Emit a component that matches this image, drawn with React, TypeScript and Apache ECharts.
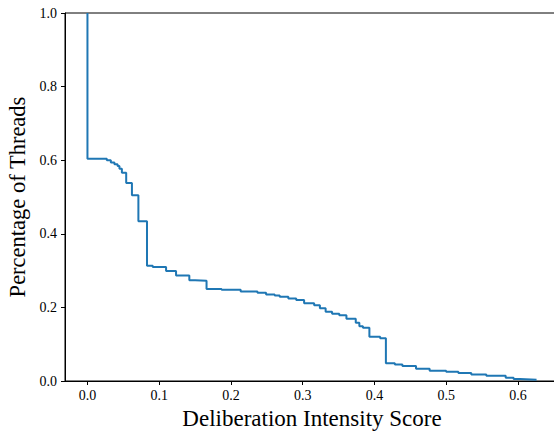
import React, { useEffect, useRef } from "react";
import * as echarts from "echarts";

const scores = [
  0, 0, 0.027, 0.0326, 0.0376, 0.042, 0.0446, 0.048, 0.054, 0.062, 0.071, 0.083,
  0.091, 0.1096, 0.1235, 0.142, 0.15, 0.166, 0.187, 0.2136, 0.237, 0.249, 0.261,
  0.268, 0.28, 0.291, 0.302, 0.316, 0.324, 0.332, 0.341, 0.351, 0.361, 0.374,
  0.379, 0.384, 0.393, 0.408, 0.416, 0.4285, 0.439, 0.458, 0.477, 0.5, 0.517,
  0.535, 0.556, 0.583, 0.594, 0.603, 0.626,
];
const fractions = [
  1.0, 0.604, 0.6, 0.594, 0.589, 0.584, 0.577, 0.566, 0.538, 0.505, 0.434, 0.313,
  0.31, 0.299, 0.287, 0.274, 0.2726, 0.25, 0.248, 0.243, 0.24, 0.235, 0.232,
  0.229, 0.224, 0.22, 0.211, 0.206, 0.198, 0.188, 0.183, 0.179, 0.169, 0.158,
  0.149, 0.145, 0.12, 0.116, 0.048, 0.045, 0.041, 0.033, 0.028, 0.025, 0.022,
  0.018, 0.0145, 0.009, 0.0054, 0.0035, 0.002,
];
const xTicks = [0, 0.1, 0.2, 0.3, 0.4, 0.5, 0.6];
const yTicks = [0, 0.2, 0.4, 0.6, 0.8, 1.0];

const FONT = "'Liberation Serif', serif";

export default function App() {
  const ref = useRef<HTMLDivElement>(null);
  useEffect(() => {
    if (!ref.current) return;
    const chart = echarts.init(ref.current, null, { renderer: "svg" });
    const data = scores.map((x, i) => [x, fractions[i]]);
    chart.setOption({
      animation: false,
      grid: {
        left: 65,
        top: 13,
        width: 494,
        height: 368,
        show: true,
        borderColor: "#000",
        borderWidth: 1,
        containLabel: false,
        outerBoundsMode: "none",
      },
      xAxis: {
        type: "value",
        min: -0.0313,
        max: 0.6573,
        name: "Deliberation Intensity Score",
        nameLocation: "middle",
        nameGap: 23,
        nameTextStyle: { fontFamily: FONT, fontSize: 23, color: "#000" },
        splitLine: { show: false },
        axisLine: { onZero: false, lineStyle: { color: "#000", width: 1 } },
        axisTick: { customValues: xTicks, length: 4, inside: false, lineStyle: { color: "#000" } },
        axisLabel: {
          customValues: xTicks,
          formatter: (v: number) => v.toFixed(1),
          fontFamily: FONT,
          fontSize: 14,
          color: "#000",
          margin: 7,
        },
      },
      yAxis: {
        type: "value",
        min: 0,
        max: 1,
        name: "Percentage of Threads",
        nameLocation: "middle",
        nameGap: 35,
        nameTextStyle: { fontFamily: FONT, fontSize: 22.5, color: "#000" },
        splitLine: { show: false },
        axisLine: { show: true, onZero: false, lineStyle: { color: "#000", width: 1 } },
        axisTick: { show: true, customValues: yTicks, length: 4, lineStyle: { color: "#000" } },
        axisLabel: {
          customValues: yTicks,
          formatter: (v: number) => v.toFixed(1),
          fontFamily: FONT,
          fontSize: 14,
          color: "#000",
          margin: 8,
        },
      },
      series: [
        {
          type: "line",
          step: "end",
          data,
          showSymbol: false,
          symbol: "none",
          lineStyle: { color: "#1f77b4", width: 2 },
          clip: true,
        },
      ],
    });
    return () => chart.dispose();
  }, []);
  return (
    <div
      ref={ref}
      style={{ position: "absolute", left: 0, top: 0, width: 554, height: 432 }}
    />
  );
}
